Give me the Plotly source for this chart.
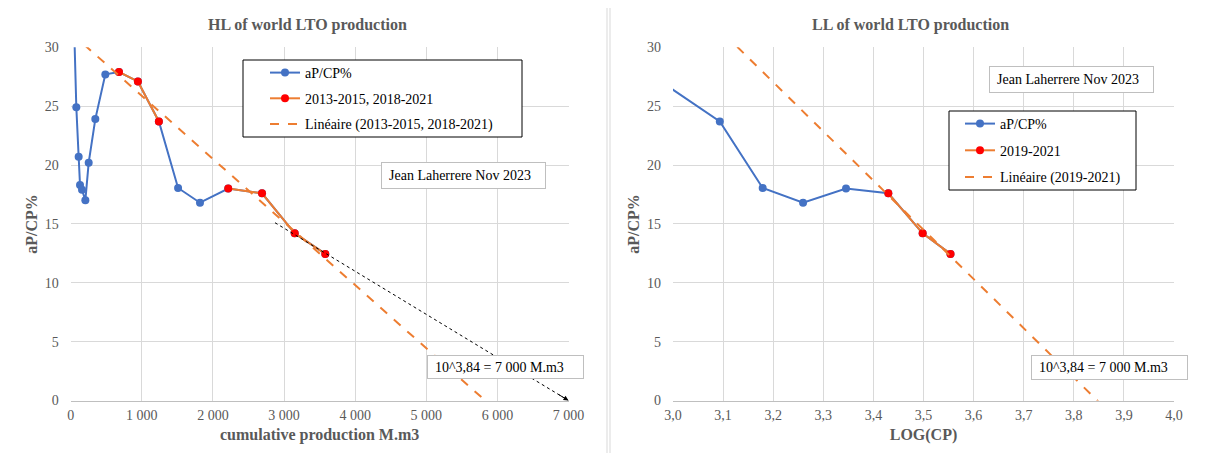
import numpy as np
import plotly.graph_objects as go

W, H = 1206, 453
OFF = 8  # page body margin of the browser

# ---------------- data ----------------
years = list(range(2004, 2022))
cum_prod = [38, 79, 112, 131, 159, 206, 253, 346, 487, 679, 945, 1240,
            1510, 1818, 2215, 2690, 3150, 3580]          # M.m3
ap_cp = [34.0, 24.9, 20.7, 18.3, 17.9, 17.0, 20.2, 23.9, 27.7, 27.9, 27.1,
         23.7, 18.05, 16.8, 18.0, 17.6, 14.2, 12.45]      # aP/CP %
hl_fit_years = [2013, 2014, 2015, 2018, 2019, 2020, 2021]
ll_fit_years = [2019, 2020, 2021]

hl_title = "HL of world LTO production"
ll_title = "LL of world LTO production"
author_note = "Jean Laherrere Nov 2023"
urr_note = "10^3,84 = 7 000 M.m3"
arrow_from = (2873, 15.1)
arrow_to = (7000, 0)

# ---------------- styling helpers ----------------
SERIF = "Liberation Serif, Times New Roman, serif"
GREY = "#595959"
BLUE = "#4472C4"
ORANGE = "#ED7D31"
RED = "#FF0000"


def px(x):
    return (x - OFF) / W


def py(y):
    return 1 - (y - OFF) / H


log_cp = list(np.log10(cum_prod))
hl_sel = [v if yr in hl_fit_years else None for yr, v in zip(years, ap_cp)]
hl_x = [c if yr in hl_fit_years else None for yr, c in zip(years, cum_prod)]
ll_sel = [v if yr in ll_fit_years else None for yr, v in zip(years, ap_cp)]
ll_x = [c if yr in ll_fit_years else None for yr, c in zip(years, log_cp)]

# linear trend lines (as Excel "Linéaire")
fx = [c for c in hl_x if c is not None]
fy = [v for v in hl_sel if v is not None]
hl_coef = np.polyfit(fx, fy, 1)
hl_tx = [0, 7000]
hl_ty = list(np.polyval(hl_coef, hl_tx))

gx = [c for c in ll_x if c is not None]
gy = [v for v in ll_sel if v is not None]
ll_coef = np.polyfit(gx, gy, 1)
ll_tx = [3.0, 4.0]
ll_ty = list(np.polyval(ll_coef, ll_tx))

fig = go.Figure()

# ---- left: HL ----
fig.add_trace(go.Scatter(
    x=cum_prod, y=ap_cp, mode="lines+markers", name="aP/CP%",
    line=dict(color=BLUE, width=2), marker=dict(color=BLUE, size=8),
    xaxis="x", yaxis="y", legend="legend", legendgroup="a"))
fig.add_trace(go.Scatter(
    x=hl_x, y=hl_sel, mode="lines+markers", name="2013-2015, 2018-2021",
    line=dict(color=ORANGE, width=2), marker=dict(color=RED, size=8),
    xaxis="x", yaxis="y", legend="legend", legendgroup="b"))
fig.add_trace(go.Scatter(
    x=hl_tx, y=hl_ty, mode="lines", name="Linéaire (2013-2015, 2018-2021)",
    line=dict(color=ORANGE, width=2, dash="dash"),
    xaxis="x", yaxis="y", legend="legend", legendgroup="c"))
fig.add_trace(go.Scatter(
    x=[arrow_from[0], arrow_to[0]], y=[arrow_from[1], arrow_to[1]],
    mode="lines", line=dict(color="black", width=1, dash="dot"),
    showlegend=False, hoverinfo="skip", xaxis="x", yaxis="y"))

# ---- right: LL ----
fig.add_trace(go.Scatter(
    x=log_cp, y=ap_cp, mode="lines+markers", name="aP/CP%",
    line=dict(color=BLUE, width=2), marker=dict(color=BLUE, size=8),
    xaxis="x2", yaxis="y2", legend="legend2", legendgroup="d"))
fig.add_trace(go.Scatter(
    x=ll_x, y=ll_sel, mode="lines+markers", name="2019-2021",
    line=dict(color=ORANGE, width=2), marker=dict(color=RED, size=8),
    xaxis="x2", yaxis="y2", legend="legend2", legendgroup="e"))
fig.add_trace(go.Scatter(
    x=ll_tx, y=ll_ty, mode="lines", name="Linéaire (2019-2021)",
    line=dict(color=ORANGE, width=2, dash="dash"),
    xaxis="x2", yaxis="y2", legend="legend2", legendgroup="f"))

tickfont = dict(family=SERIF, size=14, color=GREY)
axtitlefont = dict(family=SERIF, size=16, color=GREY)
ydom = [py(400.5), py(47.3)]

common_x = dict(showgrid=True, gridcolor="#d9d9d9", gridwidth=1, zeroline=False,
                showline=True, linecolor="#bfbfbf", linewidth=1, automargin=False,
                tickfont=tickfont, ticks="", ticklabelstandoff=2)
common_y = dict(showgrid=True, gridcolor="#d9d9d9", gridwidth=1, zeroline=False,
                showline=False, range=[0, 30], dtick=5, tick0=0, automargin=False,
                tickfont=tickfont, ticks="", ticklabelstandoff=11, domain=ydom,
                title=dict(text="<b>aP/CP%</b>", font=axtitlefont, standoff=3))

fig.update_layout(
    width=W, height=H, margin=dict(l=0, r=0, t=0, b=0, autoexpand=False),
    paper_bgcolor="white", plot_bgcolor="white",
    separators=", ",
    font=dict(family=SERIF, color="black"),
    xaxis=dict(domain=[px(70.7), px(568.5)], range=[0, 7000], dtick=1000, tick0=0,
               tickformat=",d", separatethousands=True,
               title=dict(text="<b>cumulative production M.m3</b>", font=axtitlefont, standoff=6),
               anchor="y", **common_x),
    yaxis=dict(anchor="x", **common_y),
    xaxis2=dict(domain=[px(673), px(1174)], range=[3.0, 4.0], dtick=0.1, tick0=3.0,
                tickformat=".1f",
                title=dict(text="<b>LOG(CP)</b>", font=axtitlefont, standoff=6),
                anchor="y2", **common_x),
    yaxis2=dict(anchor="x2", **common_y),
    legend=dict(x=px(265), y=py(57), xanchor="left", yanchor="top",
                bgcolor="rgba(0,0,0,0)", borderwidth=0,
                font=dict(family=SERIF, size=14, color="black"),
                traceorder="grouped", tracegroupgap=4.5),
    legend2=dict(x=px(960), y=py(108), xanchor="left", yanchor="top",
                 bgcolor="rgba(0,0,0,0)", borderwidth=0,
                 font=dict(family=SERIF, size=14, color="black"),
                 traceorder="grouped", tracegroupgap=5.5),
    showlegend=True,
)

shapes = [
    # chart frames
    dict(type="rect", xref="paper", yref="paper", x0=px(7), x1=px(607), y0=py(470), y1=py(7),
         line=dict(color="#d9d9d9", width=1), layer="below"),
    dict(type="rect", xref="paper", yref="paper", x0=px(610), x1=px(1220), y0=py(470), y1=py(7),
         line=dict(color="#d9d9d9", width=1), layer="below"),
    # legend boxes
    dict(type="rect", xref="paper", yref="paper", x0=px(243), x1=px(522), y0=py(137), y1=py(60),
         line=dict(color="black", width=1), fillcolor="white", layer="above"),
    dict(type="rect", xref="paper", yref="paper", x0=px(949), x1=px(1136), y0=py(190), y1=py(111),
         line=dict(color="black", width=1), fillcolor="white", layer="above"),
]
fig.update_layout(shapes=shapes)

ann = [
    dict(text=f"<b>{hl_title}</b>", x=px(307), y=py(25), xref="paper", yref="paper",
         xanchor="center", yanchor="middle",
         showarrow=False, font=dict(family=SERIF, size=16, color=GREY)),
    dict(text=f"<b>{ll_title}</b>", x=px(910), y=py(25), xref="paper", yref="paper",
         xanchor="center", yanchor="middle",
         showarrow=False, font=dict(family=SERIF, size=16, color=GREY)),
]
NB = "\u00a0\u00a0"
for (x0, y0, w, h, t) in [(381, 162, 165, 27, author_note), (989, 66, 165, 27, author_note),
                          (427, 355, 157, 24, urr_note), (1031, 355, 157, 25, urr_note)]:
    ann.append(dict(text=NB + t, x=px(x0), y=py(y0), xref="paper", yref="paper",
                    xanchor="left", yanchor="top", showarrow=False, align="left",
                    width=w - 2, height=h - 2, borderpad=0,
                    bordercolor="#bfbfbf", borderwidth=1, bgcolor="white",
                    font=dict(family=SERIF, size=14, color="black")))
# arrow head at the end of the black dotted extrapolation
ann.append(dict(x=arrow_to[0], y=arrow_to[1], xref="x", yref="y",
                ax=arrow_to[0] - 160, ay=arrow_to[1] + 160 * arrow_from[1] / (arrow_to[0] - arrow_from[0]),
                axref="x", ayref="y", text="", showarrow=True, arrowhead=2,
                arrowsize=1, arrowwidth=1, arrowcolor="black"))
fig.update_layout(annotations=ann)

fig.write_html("out.html")
